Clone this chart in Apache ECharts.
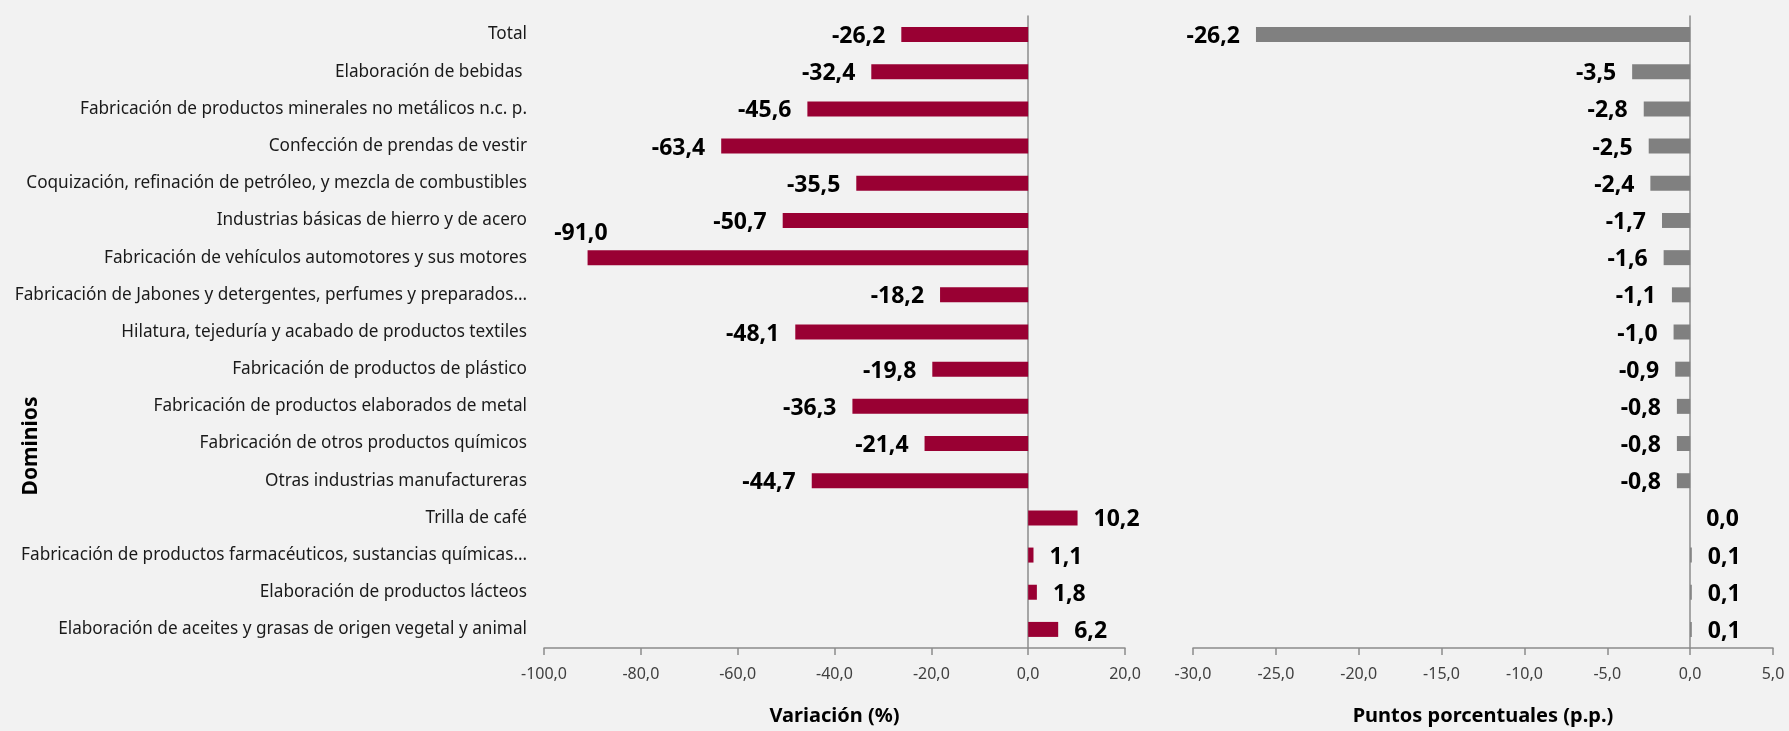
<!DOCTYPE html>
<html>
<head>
<meta charset="utf-8">
<script src="https://cdn.jsdelivr.net/npm/echarts@6/dist/echarts.min.js"></script>
<style>
html,body{margin:0;padding:0;background:#f2f2f2;}
#c{width:1789px;height:731px;}
</style>
</head>
<body>
<div id="c"></div>
<script>
const categories = [
  "Total",
  "Elaboración de bebidas ",
  "Fabricación de productos minerales no metálicos n.c. p.",
  "Confección de prendas de vestir",
  "Coquización, refinación de petróleo, y mezcla de combustibles",
  "Industrias básicas de hierro y de acero",
  "Fabricación de vehículos automotores y sus motores",
  "Fabricación de Jabones y detergentes, perfumes y preparados…",
  "Hilatura, tejeduría y acabado de productos textiles",
  "Fabricación de productos de plástico",
  "Fabricación de productos elaborados de metal",
  "Fabricación de otros productos químicos",
  "Otras industrias manufactureras",
  "Trilla de café",
  "Fabricación de productos farmacéuticos, sustancias químicas…",
  "Elaboración de productos lácteos",
  "Elaboración de aceites y grasas de origen vegetal y animal"
];
const variacion = [-26.2, -32.4, -45.6, -63.4, -35.5, -50.7, -91.0, -18.2, -48.1, -19.8, -36.3, -21.4, -44.7, 10.2, 1.1, 1.8, 6.2];
const contribucion = [-26.2, -3.5, -2.8, -2.5, -2.4, -1.7, -1.6, -1.1, -1.0, -0.9, -0.8, -0.8, -0.8, 0.0, 0.1, 0.1, 0.1];
const leftTicks = { min: -100, max: 20, interval: 20 };
const rightTicks = { min: -30, max: 5, interval: 5 };

const FONT = "Noto Sans";
const fmt = v => Number(v).toFixed(1).replace('.', ',');
const minVar = Math.min.apply(null, variacion);

const chart = echarts.init(document.getElementById('c'), null, {renderer: 'canvas'});

function labelFor(v, special) {
  const base = {
    show: true,
    position: v < 0 ? 'left' : 'right',
    distance: 16,
    offset: [0, 2],
    fontFamily: FONT,
    fontWeight: 'bold',
    fontSize: 23,
    color: '#000',
    formatter: p => fmt(p.value)
  };
  if (special) {
    base.offset = [36, -24];
  }
  return base;
}

const axisLabelStyle = {
  fontFamily: FONT, fontSize: 16, color: '#404040', margin: 18,
  formatter: v => fmt(v)
};
const axisLineStyle = { lineStyle: { color: '#8c8c8c', width: 1.5 } };

chart.setOption({
  backgroundColor: '#f2f2f2',
  animation: false,
  grid: [
    { left: 544, right: 664, top: 16, bottom: 77 },
    { left: 1193, right: 16, top: 16, bottom: 77 }
  ],
  xAxis: [
    {
      gridIndex: 0, type: 'value',
      min: leftTicks.min, max: leftTicks.max, interval: leftTicks.interval,
      splitLine: { show: false },
      axisLine: Object.assign({ show: true, onZero: false }, axisLineStyle),
      axisTick: { show: true, length: 7, lineStyle: { color: '#8c8c8c', width: 1.5 } },
      axisLabel: axisLabelStyle,
      name: 'Variación (%)', nameLocation: 'middle', nameGap: 58,
      nameTextStyle: { fontFamily: FONT, fontWeight: 'bold', fontSize: 20, color: '#000' }
    },
    {
      gridIndex: 1, type: 'value',
      min: rightTicks.min, max: rightTicks.max, interval: rightTicks.interval,
      splitLine: { show: false },
      axisLine: Object.assign({ show: true, onZero: false }, axisLineStyle),
      axisTick: { show: true, length: 7, lineStyle: { color: '#8c8c8c', width: 1.5 } },
      axisLabel: axisLabelStyle,
      name: 'Puntos porcentuales (p.p.)', nameLocation: 'middle', nameGap: 58,
      nameTextStyle: { fontFamily: FONT, fontWeight: 'bold', fontSize: 20, color: '#000' }
    }
  ],
  yAxis: [
    {
      gridIndex: 0, type: 'category', data: categories, inverse: true,
      axisLine: Object.assign({ show: true, onZero: true }, axisLineStyle),
      axisTick: { show: false },
      axisLabel: { fontFamily: FONT, fontSize: 17.2, color: '#1a1a1a', margin: 17 }
    },
    {
      gridIndex: 1, type: 'category', data: categories, inverse: true,
      axisLine: Object.assign({ show: true, onZero: true }, axisLineStyle),
      axisTick: { show: false },
      axisLabel: { show: false }
    }
  ],
  series: [
    {
      type: 'bar', xAxisIndex: 0, yAxisIndex: 0, barWidth: 15,
      itemStyle: { color: '#990033' },
      data: variacion.map(v => ({ value: v, label: labelFor(v, v === minVar) }))
    },
    {
      type: 'bar', xAxisIndex: 1, yAxisIndex: 1, barWidth: 15,
      itemStyle: { color: '#808080' },
      data: contribucion.map(v => ({ value: v, label: labelFor(v, false) }))
    }
  ],
  graphic: [
    {
      type: 'text', x: 31, y: 446, rotation: Math.PI / 2,
      style: { text: 'Dominios', fontFamily: FONT, fontWeight: 'bold', fontSize: 21, fill: '#000', align: 'center', verticalAlign: 'middle' }
    }
  ]
});
</script>
</body>
</html>
